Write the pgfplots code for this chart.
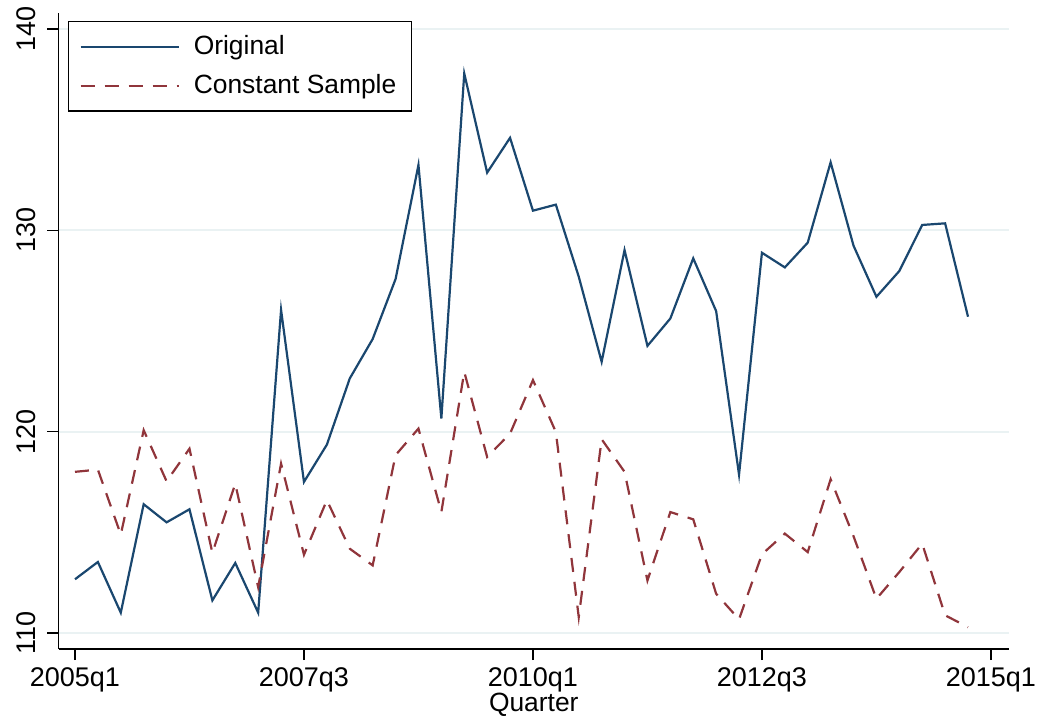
\documentclass[border=0pt]{standalone}
\usepackage{fontspec}
\setmainfont{Liberation Sans}
\usepackage{pgfplots}
\pgfplotsset{compat=1.18}
\definecolor{stnavy}{HTML}{1A476F}
\definecolor{stmaroon}{HTML}{90353B}
\definecolor{stgrid}{HTML}{EAF2F3}
\pgfplotstableread{
q orig cons
0 112.66 118.00
1 113.52 118.11
2 111.00 114.88
3 116.39 120.07
4 115.49 117.53
5 116.14 119.15
6 111.61 113.97
7 113.47 117.41
8 111.00 112.27
9 126.05 118.41
10 117.50 113.88
11 119.35 116.59
12 122.64 114.18
13 124.60 113.35
14 127.58 118.83
15 133.25 120.15
16 120.65 116.00
17 137.80 122.97
18 132.87 118.74
19 134.60 119.90
20 130.98 122.56
21 131.28 119.98
22 127.70 110.78
23 123.47 119.62
24 129.02 118.00
25 124.26 112.60
26 125.62 116.00
27 128.61 115.64
28 125.99 111.94
29 117.86 110.67
30 128.89 113.90
31 128.16 114.93
32 129.39 114.01
33 133.38 117.63
34 129.24 114.80
35 126.70 111.69
36 127.98 113.02
37 130.27 114.43
38 130.35 110.87
39 125.71 110.28
}\datatable
\begin{document}
\begin{tikzpicture}
\begin{axis}[
  scale only axis, width=475.25pt, height=318pt,
  xmin=-0.72, xmax=40.79, ymin=109.19, ymax=140.8,
  axis lines*=left,
  axis line style={-, line width=0.8pt, black},
  xtick={0,10,20,30,40},
  xticklabels={2005q1,2007q3,2010q1,2012q3,2015q1},
  ytick={110,120,130,140},
  tick align=outside, major tick length=5.5pt,
  tick style={black, line width=0.8pt},
  ymajorgrids, grid style={stgrid, line width=1pt},
  /pgf/number format/assume math mode=true,
  yticklabel shift=2.5pt,
  yticklabel style={rotate=90, anchor=south, font=\fontsize{13.5}{15}\selectfont},
  xticklabel style={font=\fontsize{13.5}{15}\selectfont},
  xlabel={Quarter},
  xlabel style={font=\fontsize{13.2}{15}\selectfont, yshift=6pt},
  legend style={at={(0,1)}, anchor=north west, xshift=4.75pt, yshift=-4pt,
    draw=black, line width=0.6pt, fill=white,
    font=\fontsize{13.2}{15}\selectfont,
    inner xsep=5.5pt, inner ysep=5pt, row sep=4.5pt, column sep=5pt},
  legend cell align=left,
  legend image code/.code={\draw[#1] (0pt,0pt) -- (49pt,0pt);},
]
\addplot[stnavy, line width=1.1pt] table[x=q, y=orig] {\datatable};
\addlegendentry{Original}
\addplot[stmaroon, line width=1.1pt, dash pattern=on 7pt off 5pt] table[x=q, y=cons] {\datatable};
\addlegendentry{Constant Sample}
\end{axis}
\path ([xshift=-29.25pt, yshift=-38.5pt]current axis.south west) rectangle ([xshift=17pt, yshift=5.5pt]current axis.north east);
\end{tikzpicture}
\end{document}
